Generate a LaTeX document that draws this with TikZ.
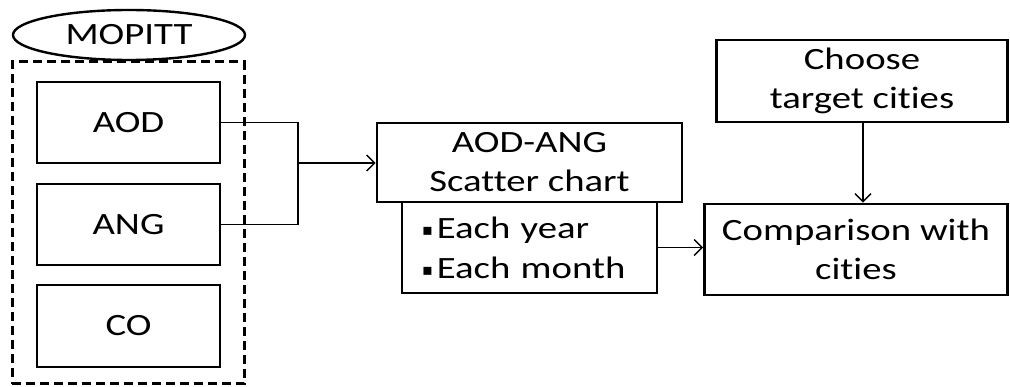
\documentclass[tikz,border=0pt]{standalone}
\usepackage{fontspec}
\setmainfont{Carlito}[FakeStretch=1.25, Ligatures=NoCommon]
\newfontfamily\symfont{DejaVu Sans}
\usetikzlibrary{arrows.meta,shapes.geometric}

\begin{document}
\begin{tikzpicture}[x=1pt,y=-1pt,
  txt/.style={font=\fontsize{31}{39}\selectfont},
  box/.style={txt, draw, line width=2.8pt, align=center, inner sep=0pt},
  link/.style={line width=1.4pt},
  arr/.style={link, -{Straight Barb[length=8pt,width=16pt,line width=1.4pt]}}
]
\useasboundingbox (0,0) rectangle (1010,387);

% data group of the instrument
\node[draw, dashed, dash pattern=on 9pt off 5pt, line width=3pt,
      minimum width=232pt, minimum height=322pt] (grp) at (128,223) {};
\node[txt, ellipse, draw, fill=white, line width=2.4pt, inner sep=0pt,
      minimum width=232pt, minimum height=50pt] (mop) at (129,35) {MOPITT};

\node[box, minimum width=183pt, minimum height=81pt] (aod) at (128.5,122.5) {AOD};
\node[box, minimum width=183pt, minimum height=81pt] (ang) at (128.5,224.5) {ANG};
\node[box, minimum width=183pt, minimum height=82pt] (co)  at (128.5,326) {CO};

% analysis steps
\node[box, minimum width=305pt, minimum height=79pt] (sc) at (529.5,162.5)
  {AOD-ANG\\Scatter chart};
\node[box, minimum width=255pt, minimum height=91pt, text width=215pt, align=left,
      font=\fontsize{31}{40}\selectfont] (sub) at (529.5,247.5)
  {{\symfont\fontsize{16}{16}\selectfont\raisebox{3pt}{▪}}\hspace{4pt}Each year\\
   {\symfont\fontsize{16}{16}\selectfont\raisebox{3pt}{▪}}\hspace{4pt}Each month};
\node[box, minimum width=291pt, minimum height=82pt] (cho) at (862,81)
  {Choose\\target cities};
\node[box, minimum width=303pt, minimum height=91pt] (cmp) at (856,249.5)
  {Comparison with\\cities};

% connectors
\coordinate (j) at (298,163);
\coordinate (vx) at (863,0);
\draw[link] (aod.east) -| (j);
\draw[link] (ang.east) -| (j);
\draw[arr] (j) -- (sc.west |- j);
\draw[arr] (sub.east) -- (cmp.west |- sub.east);
\draw[arr] (cho.south -| vx) -- (cmp.north -| vx);
\end{tikzpicture}
\end{document}
